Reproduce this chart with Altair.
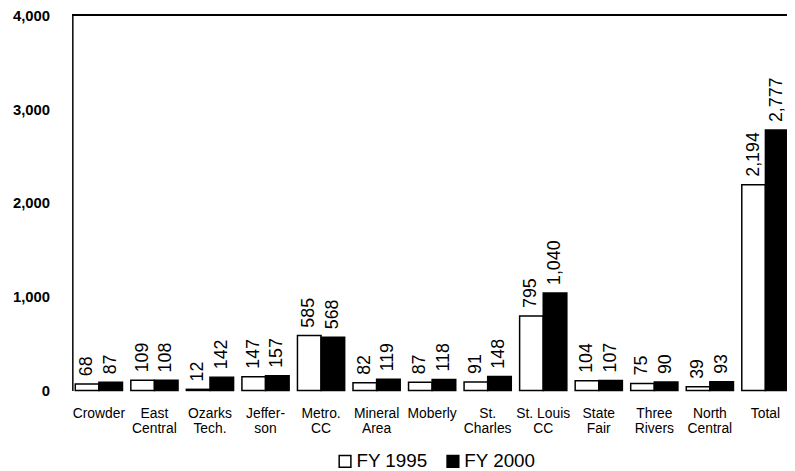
import altair as alt
import pandas as pd

colleges = ["Crowder", "East\nCentral", "Ozarks\nTech.", "Jeffer-\nson", "Metro.\nCC",
            "Mineral\nArea", "Moberly", "St.\nCharles", "St. Louis\nCC", "State\nFair",
            "Three\nRivers", "North\nCentral", "Total"]
fy1995 = [68, 109, 12, 147, 585, 82, 87, 91, 795, 104, 75, 39, 2194]
fy2000 = [87, 108, 142, 157, 568, 119, 118, 148, 1040, 107, 90, 93, 2777]
series = ["FY 1995", "FY 2000"]
y_ticks = [0, 1000, 2000, 3000, 4000]

rows = []
for c, a, b in zip(colleges, fy1995, fy2000):
    rows.append({"college": c, "year": series[0], "value": a})
    rows.append({"college": c, "year": series[1], "value": b})
df = pd.DataFrame(rows)

FONT = "Liberation Sans"

x = alt.X("college:N", sort=colleges,
          scale=alt.Scale(paddingInner=0.15, paddingOuter=0.053),
          axis=alt.Axis(title=None, labelAngle=0, labelExpr="split(datum.label, '\\n')",
                        domain=False, ticks=False, labelFont=FONT, labelFontSize=14,
                        labelColor="black", labelPadding=16, labelLineHeight=15))
xo = alt.XOffset("year:N", sort=series, scale=alt.Scale(paddingInner=0, paddingOuter=0))
y = alt.Y("value:Q", scale=alt.Scale(domain=[0, 4000], nice=False),
          axis=alt.Axis(title=None, values=y_ticks, format=",.0f", grid=False, ticks=False,
                        domainColor="black", domainWidth=1.5, labelPadding=23,
                        labelFont=FONT, labelFontSize=15, labelFontWeight="bold",
                        labelColor="black"))
color = alt.Color("year:N",
                  scale=alt.Scale(domain=series, range=["white", "black"]),
                  legend=alt.Legend(orient="none", legendX=266, legendY=441,
                                    direction="horizontal", title=None, symbolType="square",
                                    symbolStrokeColor="black", symbolStrokeWidth=1.5,
                                    symbolSize=140, labelFont=FONT, labelFontSize=19,
                                    labelColor="black", columnPadding=16, labelOffset=2))

bars = alt.Chart().mark_bar(stroke="black", strokeWidth=1.5).encode(
    x=x, xOffset=xo, y=y, color=color)

labels = alt.Chart().mark_text(angle=270, align="left", baseline="middle", dx=8,
                               font=FONT, fontSize=18, color="black").encode(
    x=x, xOffset=xo, y=y, text=alt.Text("value:Q", format=",.0f"))

top = alt.Chart().mark_rule(color="black", strokeWidth=1.5).encode(y=alt.datum(4000))

chart = alt.layer(bars, labels, top, data=df).properties(
    width=727, height=379,
    autosize=alt.AutoSizeParams(type="none"),
    padding={"left": 65, "top": 5, "right": -5, "bottom": 79},
    background="white",
).configure_view(stroke=None)

chart.save("out.html", embed_options={"renderer": "svg", "actions": False})
